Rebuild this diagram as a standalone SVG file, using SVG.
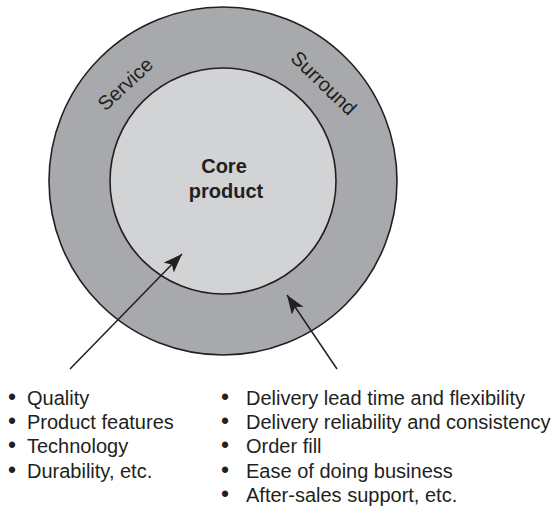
<svg xmlns="http://www.w3.org/2000/svg" width="554" height="517" viewBox="0 0 554 517">
<style>
.ring{fill:#a8a9ac;stroke:#231f20;stroke-width:1.6}
.core{fill:#d2d3d5;stroke:#231f20;stroke-width:1.6}
.t{font-family:"Liberation Sans",Arial,Helvetica,sans-serif;font-size:20px;fill:#231f20}
.b{font-weight:bold}
.bu{font-size:23px}
.conn{stroke:#231f20;stroke-width:1.5;fill:none}
</style>
<defs>
<marker id="ah" markerUnits="userSpaceOnUse" markerWidth="20" markerHeight="16" refX="19" refY="7" orient="auto">
<path d="M0,0 L19,7 L0,14 L4.5,7 Z" fill="#231f20"/>
</marker>
</defs>
<rect width="554" height="517" fill="#ffffff"/>
<g id="service-surround">
<circle class="ring" cx="223" cy="181" r="174"/>
<text class="t" text-anchor="middle" transform="translate(130,89) rotate(-43)">Service</text>
<text class="t" text-anchor="middle" transform="translate(319,88) rotate(44)">Surround</text>
</g>
<g id="core-product">
<circle class="core" cx="223" cy="181" r="113"/>
<text class="t b" text-anchor="middle" x="224" y="173">Core</text>
<text class="t b" text-anchor="middle" x="226" y="198">product</text>
</g>
<g id="connectors">
<line class="conn" x1="70" y1="369" x2="182" y2="254" marker-end="url(#ah)"/>
<line class="conn" x1="337" y1="369" x2="287" y2="295" marker-end="url(#ah)"/>
</g>
<g id="core-list">
<text class="t" y="405"><tspan class="bu" x="8">•</tspan><tspan x="27">Quality</tspan></text>
<text class="t" y="429.2"><tspan class="bu" x="8">•</tspan><tspan x="27">Product features</tspan></text>
<text class="t" y="453.4"><tspan class="bu" x="8">•</tspan><tspan x="27">Technology</tspan></text>
<text class="t" y="477.6"><tspan class="bu" x="8">•</tspan><tspan x="27">Durability, etc.</tspan></text>
</g>
<g id="service-list">
<text class="t" y="405"><tspan class="bu" x="221">•</tspan><tspan x="246">Delivery lead time and flexibility</tspan></text>
<text class="t" y="429.2"><tspan class="bu" x="221">•</tspan><tspan x="246">Delivery reliability and consistency</tspan></text>
<text class="t" y="453.4"><tspan class="bu" x="221">•</tspan><tspan x="246">Order fill</tspan></text>
<text class="t" y="477.6"><tspan class="bu" x="221">•</tspan><tspan x="246">Ease of doing business</tspan></text>
<text class="t" y="501.8"><tspan class="bu" x="221">•</tspan><tspan x="246">After-sales support, etc.</tspan></text>
</g>
</svg>
